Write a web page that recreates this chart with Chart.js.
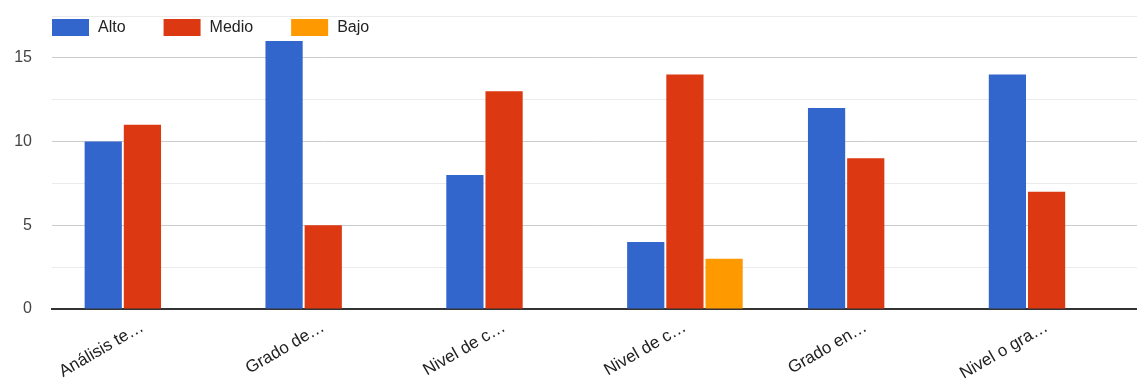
<!DOCTYPE html>
<html lang="es">
<head>
  <meta charset="UTF-8">
  <title>Niveles</title>
  <style>
    body { margin: 0; background: #fff; }
    #wrap { width: 1137px; height: 385px; }
  </style>
</head>
<body>
  <div id="wrap">
    <canvas id="myChart"></canvas>
  </div>

<script src="https://cdn.jsdelivr.net/npm/chart.js"></script>

<script>
  var categorias = ['Análisis te…', 'Grado de…', 'Nivel de c…', 'Nivel de c…', 'Grado en…', 'Nivel o gra…'];
  var alto = [10, 16, 8, 4, 12, 14];
  var medio = [11, 5, 13, 14, 9, 7];
  var bajo = [0, 0, 0, 3, 0, 0];
  var fuente = 'Liberation Sans, Arial, sans-serif';

  // leyenda horizontal dentro del area del grafico, como en Google Charts
  var leyendaDentro = {
    id: 'leyendaDentro',
    afterDraw: function (chart) {
      var c = chart.ctx;
      var x = chart.chartArea.left;
      var y = chart.chartArea.top + 3;
      c.save();
      c.font = '16px ' + fuente;
      c.textBaseline = 'middle';
      chart.data.datasets.forEach(function (ds) {
        c.fillStyle = ds.backgroundColor;
        c.fillRect(x, y, 37, 17);
        c.fillStyle = '#222';
        c.fillText(ds.label, x + 46, y + 9);
        x += 46 + c.measureText(ds.label).width + 38;
      });
      c.restore();
    }
  };

  const ctx = document.getElementById('myChart');

  chart = new Chart(ctx, {
    type: 'bar',
    data: {
      labels: categorias,
      datasets: [
        { label: 'Alto', data: alto, backgroundColor: '#3366cc' },
        { label: 'Medio', data: medio, backgroundColor: '#dc3912' },
        { label: 'Bajo', data: bajo, backgroundColor: '#ff9900' }
      ]
    },
    plugins: [leyendaDentro],
    options: {
      responsive: true,
      maintainAspectRatio: false,
      animation: false,
      layout: { padding: { top: 16, right: 0, left: 0, bottom: 0 } },
      datasets: {
        bar: { categoryPercentage: 0.65, barPercentage: 0.95 }
      },
      plugins: {
        tooltip: { enabled: false },
        legend: { display: false }
      },
      scales: {
        x: {
          grid: { display: false },
          border: { color: '#333', width: 2 },
          afterFit: function (s) { s.height = 76; },
          ticks: {
            color: '#222',
            minRotation: 30,
            maxRotation: 30,
            padding: 0,
            font: { family: fuente, size: 17 }
          }
        },
        y: {
          min: 0,
          max: 17.5,
          border: { display: false },
          afterFit: function (s) {
            s.width = 52;
            s.paddingTop = 0;
            s.paddingBottom = 0;
          },
          grid: {
            drawTicks: false,
            color: function (c) {
              return c.tick.value % 5 === 0 ? '#cccccc' : '#ebebeb';
            }
          },
          ticks: {
            stepSize: 2.5,
            padding: 20,
            color: '#444',
            font: { family: fuente, size: 16 },
            callback: function (v) { return v % 5 === 0 ? v : ''; }
          }
        }
      }
    }
  });
</script>
</body>
</html>
